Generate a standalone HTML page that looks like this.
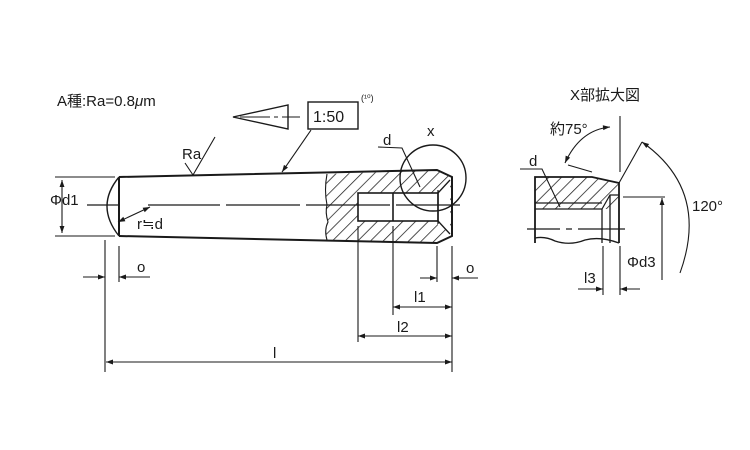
<!DOCTYPE html>
<html><head><meta charset="utf-8"><style>
body{margin:0;background:#fff}
svg{display:block}
text{font-family:"Liberation Sans","Noto Sans CJK JP",sans-serif;fill:#1a1a1a}
</style></head><body>
<svg width="750" height="450" viewBox="0 0 750 450" xmlns="http://www.w3.org/2000/svg">
<defs>
<pattern id="h" patternUnits="userSpaceOnUse" width="9" height="9" patternTransform="rotate(45)">
<line x1="0" y1="0" x2="0" y2="9" stroke="#1a1a1a" stroke-width="1.5"/>
</pattern>
<marker id="a" viewBox="0 0 10 10" refX="10" refY="5" markerWidth="10" markerHeight="7" orient="auto-start-reverse" markerUnits="userSpaceOnUse">
<path d="M0,1.5 L10,5 L0,8.5 Z" fill="#1a1a1a"/>
</marker>
</defs>
<g stroke="#1a1a1a" fill="none" stroke-width="1.1">
<path d="M327,174 L437,170 L452,177 L452,236 L437,243 L327,240 Q324,230 328,222 Q325,212 327,205 Q324,190 327,174 Z" fill="url(#h)" stroke="none"/>
<rect x="358" y="193" width="80" height="28" fill="#fff" stroke="none"/>
<path d="M438,189 L450,180 L450,232 L438,225 Z" fill="#fff" stroke="none"/>
<path d="M119,177 L437,170 L452,177 L452,236 L437,243 L119,236" stroke-width="2"/>
<line x1="119" y1="177" x2="119" y2="236" stroke-width="2"/>
<path d="M119,177 Q95,206 119,236" stroke-width="1.4"/>
<path d="M327,174 Q324,190 327,205 Q325,212 328,222 Q324,230 327,240" stroke-width="1.1"/>
<rect x="358" y="193" width="80" height="28" stroke-width="1.6"/>
<line x1="393" y1="193" x2="393" y2="221" stroke-width="1.6"/>
<path d="M438,193 L450,180 M438,221 L450,234 M438,190 L438,224" stroke-width="1.3"/>
<path d="M87,205 L119,205 M148,205 L220,205 M226,205 L300,205 M306,205 L390,205 M396,205 L460,205" stroke-width="1.2"/>
<circle cx="433" cy="178" r="33" stroke-width="1.4"/>
<path d="M55,177 L115,177 M55,236 L115,236"/>
<line x1="62" y1="180" x2="62" y2="233" marker-start="url(#a)" marker-end="url(#a)"/>
<path d="M105,240 L105,372 M119,246 L119,282"/>
<line x1="83" y1="277" x2="105" y2="277" marker-end="url(#a)"/>
<line x1="150" y1="277" x2="119" y2="277" marker-end="url(#a)"/>
<path d="M437,246 L437,282 M452,246 L452,372 M393,226 L393,315 M358,226 L358,342"/>
<line x1="420" y1="278" x2="437" y2="278" marker-end="url(#a)"/>
<line x1="478" y1="278" x2="452" y2="278" marker-end="url(#a)"/>
<line x1="393" y1="307" x2="452" y2="307" marker-start="url(#a)" marker-end="url(#a)"/>
<line x1="358" y1="336" x2="452" y2="336" marker-start="url(#a)" marker-end="url(#a)"/>
<line x1="106" y1="362" x2="452" y2="362" marker-start="url(#a)" marker-end="url(#a)"/>
<line x1="118" y1="222" x2="150" y2="207" marker-start="url(#a)" marker-end="url(#a)"/>
<path d="M233,117 L288,105 L288,129 Z" stroke-width="1.4"/>
<path d="M240,117 L270,117 M274,117 L278,117 M282,117 L300,117"/>
<rect x="308" y="102" width="50" height="27" stroke-width="1.4"/>
<line x1="311" y1="130" x2="282" y2="172" marker-end="url(#a)"/>
<path d="M185,163 L193,175 L215,137"/>
<path d="M378,147 L402,148 L420,187"/>
<path d="M535,177 L592,177 L619,183 L619,209 L602,209 L535,209 Z" fill="url(#h)" stroke="none"/>
<path d="M535,243 L535,177 L592,177 L619,183 L619,243" stroke-width="1.8"/>
<path d="M535,209 L602,209 L610,195 L619,195 M535,203 L602,203" stroke-width="1.2"/>
<path d="M602,209 L602,243 M610,195 L610,243" stroke-width="1.3"/>
<path d="M535,238 Q545,236 555,241 Q570,246 585,240 Q600,236 619,243" stroke-width="1.3"/>
<path d="M527,229 L560,229 M566,229 L572,229 M578,229 L625,229" stroke-width="1.2"/>
<path d="M620,116 L620,172 M619,183 L642,142 M568,165 L592,172"/>
<path d="M610,127 Q580,130 565,163" marker-start="url(#a)" marker-end="url(#a)"/>
<path d="M642,142 Q710,190 680,273" marker-start="url(#a)"/>
<path d="M623,197 L665,197"/>
<line x1="662" y1="280" x2="662" y2="198" marker-end="url(#a)"/>
<path d="M603,246 L603,295 M620,246 L620,295"/>
<line x1="578" y1="289" x2="603" y2="289" marker-end="url(#a)"/>
<line x1="640" y1="289" x2="620" y2="289" marker-end="url(#a)"/>
<path d="M520,169 L542,169 L560,207"/>
</g>
<g font-size="15">
<text x="57" y="106">A種:Ra=0.8<tspan font-style="italic">μ</tspan>m</text>
<text x="313" y="122" font-size="16">1:50</text>
<text x="361" y="101" font-size="9">(¹⁰)</text>
<text x="182" y="159">Ra</text>
<text x="383" y="145">d</text>
<text x="427" y="136">x</text>
<text x="50" y="205">Φd1</text>
<text x="137" y="229">r≒d</text>
<text x="137" y="272">o</text>
<text x="466" y="273">o</text>
<text x="414" y="302">l1</text>
<text x="397" y="332">l2</text>
<text x="273" y="358">l</text>
<text x="570" y="100">X部拡大図</text>
<text x="550" y="134">約75°</text>
<text x="529" y="166">d</text>
<text x="692" y="211">120°</text>
<text x="627" y="267">Φd3</text>
<text x="584" y="283">l3</text>
</g>
</svg>
</body></html>
